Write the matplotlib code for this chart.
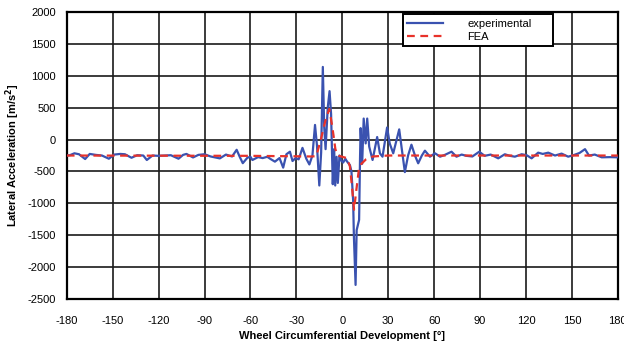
import matplotlib.pyplot as plt
import numpy as np

plt.rcParams['font.family'] = ['Liberation Sans', 'DejaVu Sans']
plt.rcParams['axes.unicode_minus'] = False

# experimental trace: (deg, m/s^2)
exp_deg = [-180, -178, -175, -172, -168, -165, -161, -157, -152.5, -149, -145, -142,
           -137.7, -134, -130, -127.7, -124, -120, -116, -112, -107, -104, -101.8,
           -97.5, -94, -90, -86, -80, -76, -72, -69, -67, -65, -62, -60, -58.7, -55,
           -52, -49, -46.5, -44, -41, -38.6, -36.5, -34.2, -32.5, -30.5, -28.5, -26,
           -23.5, -21.5, -19.5, -17.8, -16.5, -15, -13.8, -12.7, -11.8, -10.9, -9.5,
           -8.3, -7.3, -6.2, -5.3, -4.6, -3.7, -2.9, -1.8, -1, 0.6, 2, 3, 5, 6, 7.1,
           7.6, 8.7, 9.4, 11, 11.6, 12, 13, 14, 15.3, 16.3, 17.6, 19.8, 22.8, 24.6,
           26.3, 29.3, 31, 33.3, 37.2, 40.9, 43, 45.2, 47.5, 49.6, 52, 54, 57.3, 60.6,
           63.9, 67, 71.4, 74.6, 78, 81.2, 85, 89.5, 93, 97, 101.9, 106.2, 109.5,
           112.8, 117.2, 120.5, 123.7, 128, 131, 134.6, 139, 143.3, 147.6, 151, 155,
           158.6, 161.2, 165, 169.5, 175, 180]
exp_val = [-250, -245, -215, -230, -305, -225, -240, -250, -300, -235, -225, -230,
           -285, -245, -250, -320, -250, -255, -250, -245, -300, -240, -225,
           -280, -240, -230, -265, -295, -235, -265, -160, -270, -370, -285, -270, -320, -275,
           -290, -270, -310, -346, -290, -440, -230, -190, -336, -290, -310, -130,
           -300, -390, -250, 230, -100, -720, -200, 1140, 200, -150, 500,
           760, 400, -700, -150, -720, -270, -680, -250, -320, -360, -300, -340, -400, -500, -950,
           -1520, -2280, -1420, -1260, -300, 180, -380, 330, -60, 330, -110, -320, 40, -216,
           -268, 190, -60, -215, 160, -510, -250, -80, -250, -372, -250, -174, -268, -215,
           -268, -240, -190, -268, -235, -255, -265, -190, -255, -235, -294, -230, -255,
           -268, -230, -245, -294, -205, -225, -205, -250, -220, -268, -245, -210,
           -150, -250, -235, -278, -275, -278]

# FEA prediction
fea_deg = [-180, -60, -30, -20, -17, -14, -11, -8.5, -6.5, -4.5, -3, 0, 3, 5, 6.2,
           7.7, 9.2, 10.8, 12.5, 15.5, 20, 30, 180]
fea_val = [-250, -255, -262, -265, -260, 0, 300, 480, 200, -150, -250, -270, -290,
           -420, -700, -1100, -790, -480, -380, -310, -265, -250, -250]

xticks = np.arange(-180, 181, 30)
yticks = np.arange(-2500, 2001, 500)

fig = plt.figure(figsize=(6.24, 3.46), dpi=100)
ax = fig.add_axes([0.107, 0.136, 0.883, 0.829])

ax.plot(exp_deg, exp_val, color='#3a52b0', lw=1.6, label='experimental', zorder=3)
ax.plot(fea_deg, fea_val, color='#e8322a', lw=1.6, ls=(0, (3.5, 2.5)), label='FEA', zorder=4)

ax.set_xlim(-180, 180)
ax.set_ylim(-2500, 2000)
ax.set_xticks(xticks)
ax.set_yticks(yticks)
ax.tick_params(length=0, labelsize=8)
ax.tick_params(axis='x', pad=12)
ax.tick_params(axis='y', pad=8)
ax.grid(True, color='#1a1a1a', lw=1.2)
ax.set_axisbelow(True)
for s in ax.spines.values():
    s.set_linewidth(1.6)
    s.set_color('black')

ax.set_xlabel('Wheel Circumferential Development [°]', fontsize=8, fontweight='bold', labelpad=4)
ax.set_ylabel('Lateral Acceleration [m/s$^\\mathbf{2}$]', fontsize=8, fontweight='bold', labelpad=4)

leg = ax.legend(loc='upper left', bbox_to_anchor=(0.61, 0.854, 0.272, 0.139), mode='expand',
                fontsize=8, frameon=True, fancybox=False, handlelength=3.2,
                handletextpad=2.2, borderpad=0.4, labelspacing=0.3, borderaxespad=0)
leg.get_frame().set_edgecolor('black')
leg.get_frame().set_linewidth(1.4)
leg.get_frame().set_alpha(1)

fig.savefig('out.png', dpi=100)
